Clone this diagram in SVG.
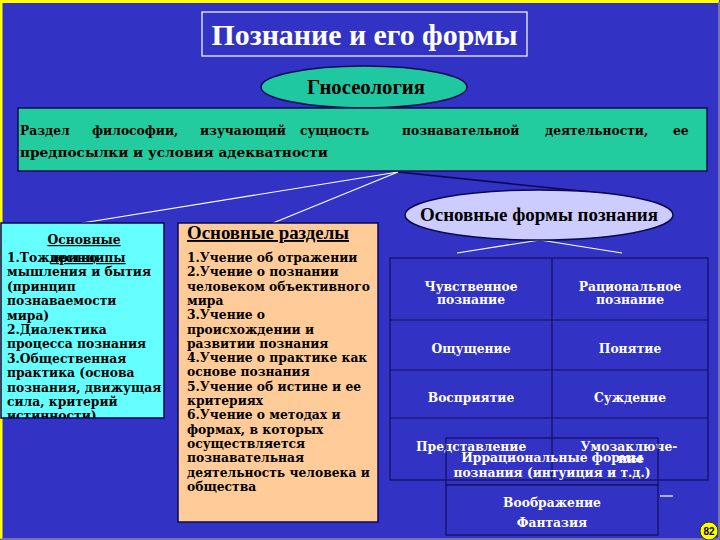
<svg xmlns="http://www.w3.org/2000/svg" width="720" height="540" viewBox="0 0 720 540">
<defs>
<style>
.t{font-family:"Liberation Serif","Times New Roman",serif;font-weight:bold}
.b{font-family:"DejaVu Serif","Liberation Serif",serif;font-weight:bold;font-size:12.3px}
.k{fill:#000000}
.w{fill:#ffffff}
.cell{fill:none;stroke:#10105a;stroke-width:1.2}
.wl{stroke:#ffffff;stroke-width:1.2;fill:none}
</style>
<clipPath id="clipL"><rect x="0" y="223" width="164" height="195"/></clipPath>
</defs>
<rect x="0" y="0" width="720" height="540" fill="#3232c4"/>
<path d="M1,539 V1.5 H719" fill="none" stroke="#ffff00" stroke-width="3"/>
<path d="M719,2 V539 H1" fill="none" stroke="#8a8aa0" stroke-width="1.5"/>

<g id="title">
<rect x="202" y="12" width="325" height="44" fill="none" stroke="#ffffff" stroke-width="1.2"/>
<text class="t w" x="364.5" y="45" font-size="29" text-anchor="middle" textLength="306" lengthAdjust="spacingAndGlyphs">Познание и его формы</text>
</g>

<g id="connectors">
<line class="wl" x1="398" y1="172" x2="82" y2="223"/>
<line class="wl" x1="398" y1="172" x2="273" y2="223"/>
<line x1="398" y1="172" x2="610" y2="194" stroke="#0a0a50" stroke-width="1.5"/>
<line class="wl" x1="540" y1="240" x2="457" y2="253"/>
<line class="wl" x1="540" y1="240" x2="622" y2="253"/>
</g>

<g id="gnoseology">
<ellipse cx="364" cy="87" rx="103" ry="21" fill="#1fc8a0" stroke="#0a0a50" stroke-width="1.5"/>
<text class="t k" x="366" y="94" font-size="20" text-anchor="middle" textLength="118" lengthAdjust="spacingAndGlyphs">Гносеология</text>
</g>

<g id="definition">
<rect x="18" y="108" width="689" height="63" fill="#22cc9e" stroke="#0a0a50" stroke-width="1.5"/>
<text class="b k" y="135" font-size="14">
<tspan x="20">Раздел</tspan><tspan x="92">философии,</tspan><tspan x="200">изучающий</tspan><tspan x="300">сущность</tspan><tspan x="402">познавательной</tspan><tspan x="545">деятельности,</tspan><tspan x="673">ее</tspan>
</text>
<text class="b k" x="20" y="157" font-size="14" textLength="308" lengthAdjust="spacingAndGlyphs">предпосылки и условия адекватности</text>
</g>

<g id="principles">
<rect x="1" y="223" width="163" height="195" fill="#66ffff" stroke="#0a0a50" stroke-width="1.5"/>
<g clip-path="url(#clipL)">
<text class="b k" x="84" y="244" text-anchor="middle" text-decoration="underline">Основные</text>
<text class="b k" x="88" y="262" text-anchor="middle" text-decoration="underline">принципы</text>
<text class="b k" x="7" y="262">1.Тождество</text>
<text class="b k" x="7" y="276.4">мышления и бытия</text>
<text class="b k" x="7" y="290.8">(принцип</text>
<text class="b k" x="7" y="305.2">познаваемости</text>
<text class="b k" x="7" y="319.6">мира)</text>
<text class="b k" x="7" y="334">2.Диалектика</text>
<text class="b k" x="7" y="348.4">процесса познания</text>
<text class="b k" x="7" y="362.8">3.Общественная</text>
<text class="b k" x="7" y="377.2">практика (основа</text>
<text class="b k" x="7" y="391.6">познания, движущая</text>
<text class="b k" x="7" y="406">сила, критерий</text>
<text class="b k" x="7" y="420.4">истинности)</text>
</g>
</g>

<g id="sections">
<rect x="178" y="223" width="200" height="299" fill="#ffcc99" stroke="#0a0a50" stroke-width="1.5"/>
<text class="t k" x="187" y="239" font-size="19" text-decoration="underline" textLength="162" lengthAdjust="spacingAndGlyphs">Основные разделы</text>
<text class="b k" x="187" y="262">1.Учение об отражении</text>
<text class="b k" x="187" y="276.3">2.Учение о познании</text>
<text class="b k" x="187" y="290.6">человеком объективного</text>
<text class="b k" x="187" y="304.9">мира</text>
<text class="b k" x="187" y="319.2">3.Учение о</text>
<text class="b k" x="187" y="333.5">происхождении и</text>
<text class="b k" x="187" y="347.8">развитии познания</text>
<text class="b k" x="187" y="362.1">4.Учение о практике как</text>
<text class="b k" x="187" y="376.4">основе познания</text>
<text class="b k" x="187" y="390.7">5.Учение об истине и ее</text>
<text class="b k" x="187" y="405">критериях</text>
<text class="b k" x="187" y="419.3">6.Учение о методах и</text>
<text class="b k" x="187" y="433.6">формах, в которых</text>
<text class="b k" x="187" y="447.9">осуществляется</text>
<text class="b k" x="187" y="462.2">познавательная</text>
<text class="b k" x="187" y="476.5">деятельность человека и</text>
<text class="b k" x="187" y="490.8">общества</text>
</g>

<g id="forms">
<ellipse cx="539" cy="215" rx="134" ry="25" fill="#ccccff" stroke="#0a0a50" stroke-width="1.5"/>
<text class="t k" x="539" y="221" font-size="19" text-anchor="middle" textLength="238" lengthAdjust="spacingAndGlyphs">Основные формы познания</text>
</g>

<g id="table">
<rect class="cell" x="390" y="258" width="318" height="222"/>
<line class="cell" x1="552" y1="258" x2="552" y2="480"/>
<line class="cell" x1="390" y1="320" x2="708" y2="320"/>
<line class="cell" x1="390" y1="370" x2="708" y2="370"/>
<line class="cell" x1="390" y1="418" x2="708" y2="418"/>
<text class="b w" x="471" y="291" text-anchor="middle">Чувственное</text>
<text class="b w" x="471" y="304" text-anchor="middle">познание</text>
<text class="b w" x="630" y="291" text-anchor="middle">Рациональное</text>
<text class="b w" x="630" y="304" text-anchor="middle">познание</text>
<text class="b w" x="471" y="353" text-anchor="middle">Ощущение</text>
<text class="b w" x="630" y="353" text-anchor="middle">Понятие</text>
<text class="b w" x="471" y="402" text-anchor="middle">Восприятие</text>
<text class="b w" x="630" y="402" text-anchor="middle">Суждение</text>
<text class="b w" x="416" y="451">Представление</text>
<text class="b w" x="629" y="451" text-anchor="middle">Умозаключе-</text>
<text class="b w" x="631" y="463" text-anchor="middle">ние</text>
</g>

<g id="irrational">
<rect x="446" y="438" width="212" height="47" fill="none" stroke="#10105a" stroke-width="1.2"/>
<rect x="446" y="485" width="212" height="50" fill="#3232c4" stroke="#10105a" stroke-width="1.2"/>
<text class="b w" x="552" y="462" text-anchor="middle">Иррациональные формы</text>
<text class="b w" x="552" y="477" text-anchor="middle">познания (интуиция и т.д.)</text>
<text class="b w" x="552" y="507" text-anchor="middle">Воображение</text>
<text class="b w" x="552" y="527" text-anchor="middle">Фантазия</text>
<line x1="660" y1="496" x2="673" y2="496" stroke="#ffffff" stroke-width="1.2"/>
</g>

<g id="badge">
<circle cx="709" cy="531" r="9" fill="#ffff00" stroke="#333300" stroke-width="1"/>
<text x="709" y="535" font-family="Liberation Sans, Arial, sans-serif" font-size="10" font-weight="bold" text-anchor="middle" fill="#000000">82</text>
</g>
</svg>
